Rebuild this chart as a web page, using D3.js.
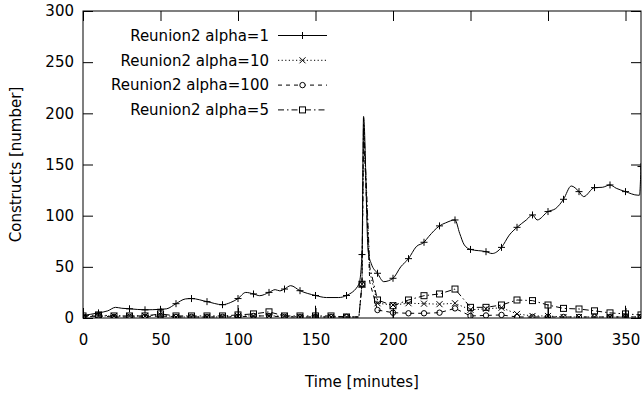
<!DOCTYPE html>
<html>
<head>
<meta charset="utf-8">
<script src="https://cdn.jsdelivr.net/npm/d3@7"></script>
<style>
body { margin: 0; background: #fff; }
svg { font-family: "DejaVu Sans", sans-serif; font-size: 15px; }
.axis path { display: none; }
.axis line { stroke: #000; }
</style>
</head>
<body>
<svg id="chart" width="643" height="399"></svg>
<script>
// alpha=1 series (markers every 10 min)
var t1 = [0,10,16,21,25,30,40,50,54,60,66,70,80,90,95,100,105,110,114,120,124,127,130,134,140,150,157,165,170,178,180,181,184,186,190,194,200,205,210,215,220,223,230,234,240,243,246,250,260,264,270,275,280,286,290,293,300,305,310,315,320,323,330,335,340,344,350,358,359,360];
var v1 = [2.5,5,7,10.4,9.5,9,8,8.5,9,14,18.6,19,16,13,15,19,25,23.5,21.8,25,27.7,26.5,28.3,31.6,26.7,22,20,20,22,33,62,197,65,53,43.7,35.5,38.8,50,58,69.7,74,79.5,90,93,95.8,82.8,71.4,67,64.8,63,69,81,88.6,95.8,100.7,95.8,104,107,116,129,123.5,118.6,127.4,127.7,130,126.8,123.5,120,120,148];

// other series share one time grid
var tLow = [0,10,20,30,40,50,60,70,80,90,100,110,120,130,140,150,160,170,178,180,181,185,190,200,210,220,230,240,250,260,270,280,290,300,310,320,330,340,350,360];
var v10  = [1,2,2,2,2,3,1,1,1,1,2,2,2,2,1,1,1,1,1,33,190,45,14.4,12.7,14.4,14,13.5,14.4,8,9,10,4,2,2,1,1,1,1,1,1];
var v100 = [1,2,1,1,1,2,1,1,1,1,1,2,2,1,1,1,1,1,1,33,185,35,7.8,5.2,4.6,4.6,5.2,9.4,2,2.5,3,1,1,1,1,1,1,1,1,1];
var v5   = [2,3,2,2,2,4,2,2,2,2,3,4,6,2,2,2,2,1,1,33,195,50,17.6,12,17.6,21.8,23.5,28.3,10.4,10.4,12.7,17.6,17,12.7,9.4,8.8,7,5,4,3];

// short vertical blips near the bottom
var spikeT = [100,150,200,300,350];
var spikeV = [12.7,12,8,13.7,12];

var seriesNames = ["Reunion2 alpha=1","Reunion2 alpha=10","Reunion2 alpha=100","Reunion2 alpha=5"];
var xTicks = [0,50,100,150,200,250,300,350];
var yTicks = [0,50,100,150,200,250,300];

var svg = d3.select("#chart");
var margin = {top: 11, right: 2, bottom: 81, left: 83};
var width = +svg.attr("width") - margin.left - margin.right,
    height = +svg.attr("height") - margin.top - margin.bottom;

var x = d3.scaleLinear().domain([0,360]).range([0,width]);
var y = d3.scaleLinear().domain([0,300]).range([height,0]);

var g = svg.append("g").attr("transform","translate(" + margin.left + "," + margin.top + ")");

svg.append("defs").append("clipPath").attr("id","clip")
  .append("rect").attr("width",width).attr("height",height);

// ticks, gnuplot style: inward and mirrored
g.append("g").attr("class","axis").attr("transform","translate(0," + height + ")")
  .call(d3.axisBottom(x).tickValues(xTicks).tickSizeInner(-10).tickSizeOuter(0).tickPadding(16))
  .selectAll("text").attr("font-size",15).attr("font-family","DejaVu Sans").attr("fill","#000");
g.append("g").attr("class","axis")
  .call(d3.axisTop(x).tickValues(xTicks).tickSizeInner(-10).tickSizeOuter(0).tickFormat(""));
g.append("g").attr("class","axis")
  .call(d3.axisLeft(y).tickValues(yTicks).tickSizeInner(-10).tickSizeOuter(0).tickPadding(9))
  .selectAll("text").attr("font-size",15).attr("font-family","DejaVu Sans").attr("fill","#000");
g.append("g").attr("class","axis").attr("transform","translate(" + width + ",0)")
  .call(d3.axisRight(y).tickValues(yTicks).tickSizeInner(-10).tickSizeOuter(0).tickFormat(""));

var plot = g.append("g").attr("clip-path","url(#clip)");

function pairs(ts, vs) { return ts.map(function(t,i){ return {t:t, v:vs[i]}; }); }

var line = d3.line().x(function(d){ return x(d.t); }).y(function(d){ return y(d.v); });
var smooth = d3.line().curve(d3.curveMonotoneX).x(function(d){ return x(d.t); }).y(function(d){ return y(d.v); });

var series = [
  {data: pairs(t1,v1),  dash: null,        mark: "plus",   gen: smooth},
  {data: pairs(tLow,v10), dash: "1.2,2.4",   mark: "cross",  gen: line},
  {data: pairs(tLow,v100),dash: "4,4",     mark: "circle", gen: line},
  {data: pairs(tLow,v5),  dash: "6,3,1.5,3", mark: "square", gen: line}
];

function drawMark(sel, type) {
  if (type === "plus") {
    sel.append("path").attr("d","M-3.5,0H3.5M0,-3.5V3.5");
  } else if (type === "cross") {
    sel.append("path").attr("d","M-3,-3L3,3M-3,3L3,-3");
  } else if (type === "circle") {
    sel.append("circle").attr("r",2.7);
  } else {
    sel.append("rect").attr("x",-3).attr("y",-3).attr("width",6).attr("height",6);
  }
}

series.forEach(function(s){
  plot.append("path").datum(s.data)
    .attr("d", s.gen)
    .attr("fill","none").attr("stroke","#000").attr("stroke-width",1)
    .attr("stroke-dasharray", s.dash);
  plot.selectAll(null)
    .data(s.data.filter(function(d){ return d.t % 10 === 0; }))
    .enter().append("g")
    .attr("transform", function(d){ return "translate(" + x(d.t) + "," + y(d.v) + ")"; })
    .attr("fill","none").attr("stroke","#000").attr("stroke-width",1)
    .each(function(){ drawMark(d3.select(this), s.mark); });
});

plot.selectAll(".spike").data(spikeT).enter().append("line")
  .attr("x1", function(d){ return x(d); }).attr("x2", function(d){ return x(d); })
  .attr("y1", y(0)).attr("y2", function(d,i){ return y(spikeV[i]); })
  .attr("stroke","#000").attr("stroke-width",1);

// border
g.append("rect").attr("width",width).attr("height",height)
  .attr("fill","none").attr("stroke","#000").attr("stroke-width",1);

// legend
var legend = svg.append("g");
seriesNames.forEach(function(name,i){
  var ly = 35.5 + i*24.8;
  legend.append("text").attr("x",269).attr("y",ly).attr("dy","0.35em")
    .attr("text-anchor","end").text(name);
  legend.append("line").attr("x1",278).attr("x2",327).attr("y1",ly).attr("y2",ly)
    .attr("stroke","#000").attr("stroke-width",1).attr("stroke-dasharray",series[i].dash);
  var mk = legend.append("g").attr("transform","translate(302.5," + ly + ")")
    .attr("fill","#fff").attr("stroke","#000").attr("stroke-width",1);
  drawMark(mk, series[i].mark);
});

// axis titles
svg.append("text").attr("x", margin.left + width/2).attr("y", 382).attr("dy","0.35em")
  .attr("text-anchor","middle").text("Time [minutes]");
svg.append("text").attr("transform","translate(16," + (margin.top + height/2) + ") rotate(-90)")
  .attr("dy","0.35em").attr("text-anchor","middle").text("Constructs [number]");
</script>
</body>
</html>
